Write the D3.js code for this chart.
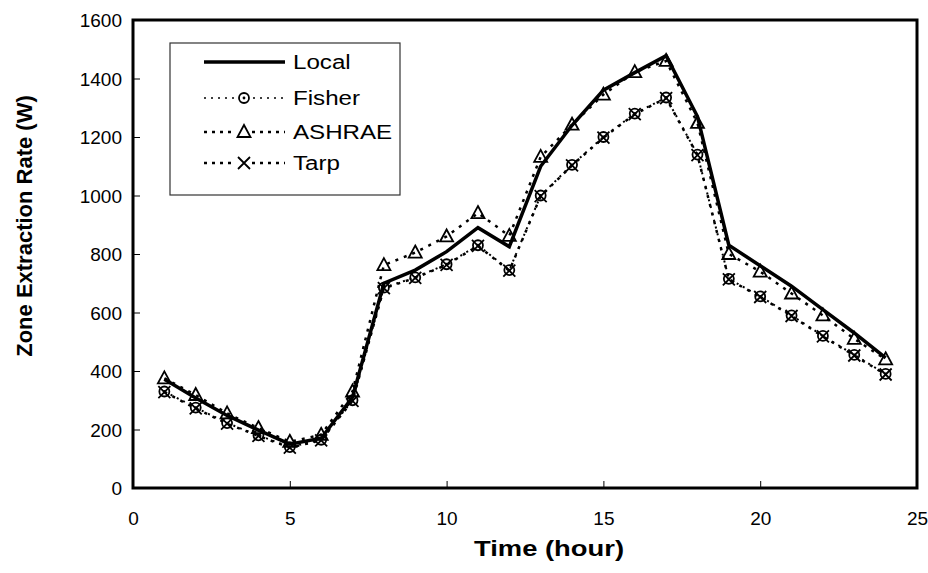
<!DOCTYPE html>
<html>
<head>
<meta charset="utf-8">
<script src="https://cdn.jsdelivr.net/npm/d3@7"></script>
<style>
  body { margin: 0; background: #fff; }
  text { font-family: "Liberation Sans", Arial, sans-serif; }
</style>
</head>
<body>
<div id="chart"></div>
<script>
// hours 1..24
var hours = d3.range(1, 25);
var local  = [372, 308, 248, 198, 150, 170, 310, 700, 745, 808, 890, 825, 1100, 1240, 1360, 1420, 1478, 1270, 830, 760, 690, 610, 530, 445];
var fisher = [330, 275, 222, 180, 140, 165, 300, 685, 720, 765, 830, 745, 1000, 1105, 1200, 1280, 1335, 1140, 715, 655, 590, 520, 455, 390];
var ashrae = [375, 318, 255, 205, 158, 182, 330, 762, 805, 860, 940, 862, 1132, 1242, 1345, 1422, 1460, 1248, 800, 740, 665, 590, 510, 440];
var tarp   = [328, 272, 220, 178, 138, 163, 298, 683, 718, 763, 828, 743, 998, 1103, 1198, 1278, 1333, 1138, 713, 653, 588, 518, 453, 388];
var xTicks = [0, 5, 10, 15, 20, 25];
var yTicks = [0, 200, 400, 600, 800, 1000, 1200, 1400, 1600];

var W = 928, H = 573;
var margin = { top: 20, right: 11, bottom: 85, left: 133 },
    width = W - margin.left - margin.right,
    height = H - margin.top - margin.bottom;

var svg = d3.select("#chart").append("svg")
    .attr("width", W).attr("height", H);
var g = svg.append("g")
    .attr("transform", "translate(" + margin.left + "," + margin.top + ")");

var x = d3.scaleLinear().domain([0, 25]).range([0, width]);
var y = d3.scaleLinear().domain([0, 1600]).range([height, 0]);

//X axis (ticks inside)
var xAxis = g.append("g")
    .attr("transform", "translate(0," + height + ")")
    .call(d3.axisBottom(x).tickValues(xTicks).tickFormat(d3.format("d"))
        .tickSizeInner(-7).tickSizeOuter(0).tickPadding(24));
xAxis.select(".domain").remove();
xAxis.selectAll("line").attr("stroke", "#000").attr("stroke-width", 1);
xAxis.selectAll("text").style("font-size", "19px").attr("fill", "#000");

//Y axis
var yAxis = g.append("g")
    .call(d3.axisLeft(y).tickValues(yTicks).tickFormat(d3.format("d"))
        .tickSizeInner(-7).tickSizeOuter(0).tickPadding(11));
yAxis.select(".domain").remove();
yAxis.selectAll("line").attr("stroke", "#000").attr("stroke-width", 1);
yAxis.selectAll("text").style("font-size", "19px").attr("fill", "#000").attr("dy", "0.35em");

//Frame
g.append("rect")
    .attr("x", 0).attr("y", 0)
    .attr("width", width).attr("height", height)
    .attr("fill", "none").attr("stroke", "#000").attr("stroke-width", 3);

var line = d3.line()
    .x(function (d, i) { return x(hours[i]); })
    .y(function (d) { return y(d); });

// dashed series
function dashed(data, dash, w) {
    g.append("path").datum(data)
        .attr("d", line)
        .attr("fill", "none").attr("stroke", "#000")
        .attr("stroke-width", w).attr("stroke-dasharray", dash);
}
dashed(fisher, "2,5", 2);
dashed(ashrae, "3,6", 2.5);
dashed(tarp, "3,6", 2.5);

// solid local
g.append("path").datum(local)
    .attr("d", line)
    .attr("fill", "none").attr("stroke", "#000")
    .attr("stroke-width", 3.5).attr("stroke-linejoin", "miter");

// markers
function triangle(sel) {
    sel.append("path")
        .attr("d", "M0,-7L6.5,5L-6.5,5Z")
        .attr("fill", "none").attr("stroke", "#000").attr("stroke-width", 1.8);
}
function circleDot(sel) {
    sel.append("circle").attr("r", 5)
        .attr("fill", "none").attr("stroke", "#000").attr("stroke-width", 1.8);
    sel.append("circle").attr("r", 1.4).attr("fill", "#000");
}
function cross(sel) {
    sel.append("path")
        .attr("d", "M-6,-6L6,6M-6,6L6,-6")
        .attr("fill", "none").attr("stroke", "#000").attr("stroke-width", 1.8);
}
function markers(data, fn) {
    g.append("g").selectAll("g")
        .data(data).enter().append("g")
        .attr("transform", function (d, i) { return "translate(" + x(hours[i]) + "," + y(d) + ")"; })
        .each(function () { fn(d3.select(this)); });
}
markers(fisher, circleDot);
markers(ashrae, triangle);
markers(tarp, cross);

//Legend
var leg = svg.append("g").attr("transform", "translate(170,43)");
leg.append("rect")
    .attr("width", 230).attr("height", 152)
    .attr("fill", "#fff").attr("stroke", "#333").attr("stroke-width", 1.2);
var items = [
    { name: "Local", y: 19, solid: true },
    { name: "Fisher", y: 55, marker: circleDot, dash: "2,5", w: 1.5 },
    { name: "ASHRAE", y: 89, marker: triangle, dash: "3,5", w: 2.5 },
    { name: "Tarp", y: 120, marker: cross, dash: "3,5", w: 2.5 }
];
items.forEach(function (it) {
    var row = leg.append("g").attr("transform", "translate(0," + it.y + ")");
    row.append("line")
        .attr("x1", 34).attr("x2", 115)
        .attr("stroke", "#000")
        .attr("stroke-width", it.solid ? 3.5 : it.w)
        .attr("stroke-dasharray", it.solid ? null : it.dash);
    if (it.marker) {
        var m = row.append("g").attr("transform", "translate(74,0)");
        m.append("rect").attr("x", -8).attr("y", -8).attr("width", 16).attr("height", 16).attr("fill", "#fff");
        it.marker(m);
    }
    row.append("text")
        .attr("dy", "0.35em")
        .style("font-size", "21px")
        .attr("transform", "scale(1.15,1)")
        .attr("x", 123 / 1.15)
        .text(it.name);
});

//X axis label
svg.append("text")
    .attr("x", 549).attr("y", 556)
    .attr("text-anchor", "middle")
    .attr("textLength", 150).attr("lengthAdjust", "spacingAndGlyphs")
    .style("font-size", "22px").style("font-weight", "bold")
    .text("Time (hour)");

//Y axis label
svg.append("text")
    .attr("transform", "translate(24,226)rotate(-90)")
    .attr("text-anchor", "middle").attr("dy", "0.35em")
    .style("font-size", "22px").style("font-weight", "bold")
    .text("Zone Extraction Rate (W)");
</script>
</body>
</html>
